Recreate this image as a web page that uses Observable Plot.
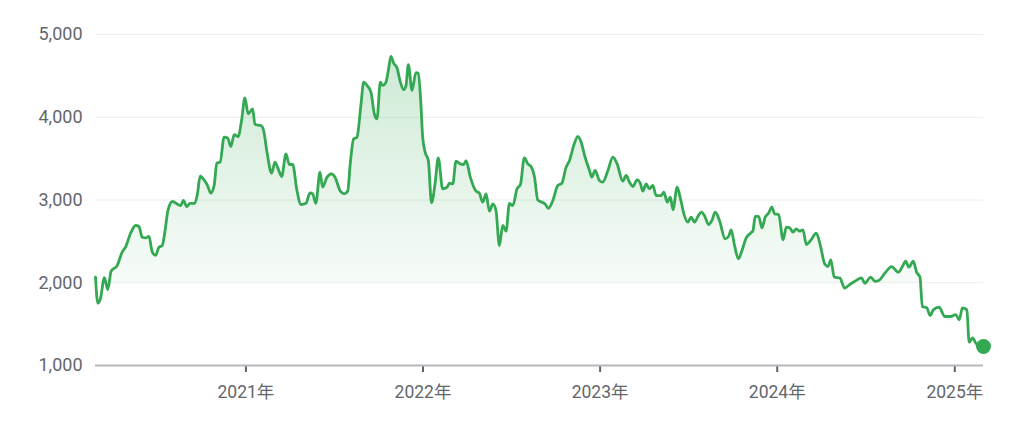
<!DOCTYPE html>
<html>
<head>
<meta charset="utf-8">
<script src="https://cdn.jsdelivr.net/npm/d3@7"></script>
<script src="https://cdn.jsdelivr.net/npm/@observablehq/plot@0.6"></script>
<style>
  html, body { margin: 0; padding: 0; background: #ffffff; }
  #chart { width: 1024px; height: 424px; }
  svg { font-family: Roboto, "Noto Sans CJK JP", sans-serif; }
</style>
</head>
<body>
<div id="chart"></div>
<script>
// Time as decimal years
const years = [
  2020.153, 2020.166, 2020.181, 2020.203, 2020.222, 2020.241, 2020.275, 2020.303, 2020.322, 2020.350,
  2020.379, 2020.397, 2020.416, 2020.435, 2020.454, 2020.473, 2020.492, 2020.510, 2020.529, 2020.542,
  2020.561, 2020.586, 2020.618, 2020.633, 2020.648, 2020.667, 2020.685, 2020.712, 2020.727, 2020.742,
  2020.764, 2020.784, 2020.802, 2020.821, 2020.836, 2020.855, 2020.877, 2020.897, 2020.915, 2020.934,
  2020.956, 2020.976, 2020.994, 2021.013, 2021.038, 2021.051, 2021.085, 2021.100, 2021.119, 2021.145,
  2021.164, 2021.182, 2021.202, 2021.226, 2021.245, 2021.264, 2021.288, 2021.311, 2021.339, 2021.362,
  2021.377, 2021.395, 2021.418, 2021.433, 2021.458, 2021.484, 2021.503, 2021.533, 2021.555, 2021.575,
  2021.589, 2021.608, 2021.627, 2021.650, 2021.665, 2021.684, 2021.706, 2021.725, 2021.740, 2021.759,
  2021.772, 2021.791, 2021.804, 2021.819, 2021.834, 2021.853, 2021.872, 2021.891, 2021.904, 2021.917,
  2021.938, 2021.960, 2021.973, 2021.987, 2021.998, 2022.013, 2022.030, 2022.048, 2022.068, 2022.086,
  2022.111, 2022.136, 2022.149, 2022.168, 2022.186, 2022.211, 2022.230, 2022.243, 2022.267, 2022.299,
  2022.318, 2022.337, 2022.356, 2022.375, 2022.394, 2022.412, 2022.431, 2022.450, 2022.469, 2022.488,
  2022.507, 2022.531, 2022.550, 2022.572, 2022.592, 2022.610, 2022.629, 2022.648, 2022.671, 2022.689,
  2022.708, 2022.733, 2022.761, 2022.784, 2022.808, 2022.827, 2022.851, 2022.874, 2022.893, 2022.915,
  2022.940, 2022.953, 2022.972, 2022.996, 2023.015, 2023.044, 2023.072, 2023.096, 2023.128, 2023.147,
  2023.166, 2023.185, 2023.209, 2023.228, 2023.241, 2023.260, 2023.278, 2023.298, 2023.316, 2023.345,
  2023.360, 2023.379, 2023.397, 2023.411, 2023.435, 2023.454, 2023.473, 2023.495, 2023.514, 2023.533,
  2023.552, 2023.571, 2023.589, 2023.612, 2023.631, 2023.650, 2023.674, 2023.706, 2023.725, 2023.740,
  2023.759, 2023.781, 2023.801, 2023.825, 2023.849, 2023.863, 2023.876, 2023.895, 2023.914, 2023.932,
  2023.951, 2023.970, 2023.985, 2024.008, 2024.033, 2024.051, 2024.070, 2024.089, 2024.107, 2024.126,
  2024.145, 2024.164, 2024.188, 2024.220, 2024.245, 2024.267, 2024.286, 2024.302, 2024.321, 2024.352,
  2024.380, 2024.408, 2024.437, 2024.475, 2024.493, 2024.527, 2024.550, 2024.572, 2024.606, 2024.644,
  2024.682, 2024.705, 2024.723, 2024.742, 2024.766, 2024.785, 2024.804, 2024.817, 2024.842, 2024.861,
  2024.879, 2024.911, 2024.944, 2024.977, 2025.006, 2025.025, 2025.043, 2025.068, 2025.081, 2025.100,
  2025.119, 2025.138, 2025.162
];
const prices = [
  2067, 1753, 1810, 2063, 1918, 2140, 2208, 2370, 2430, 2595,
  2692, 2683, 2550, 2542, 2560, 2370, 2330, 2430, 2450, 2590,
  2873, 2982, 2945, 2933, 2994, 2921, 2960, 2960, 3073, 3287,
  3243, 3175, 3083, 3175, 3444, 3457, 3759, 3750, 3646, 3791,
  3767, 3968, 4233, 4040, 4101, 3912, 3900, 3840, 3578, 3324,
  3457, 3377, 3284, 3557, 3429, 3429, 3115, 2945, 2960, 3085,
  3073, 2961, 3336, 3155, 3276, 3316, 3276, 3107, 3075, 3107,
  3436, 3738, 3759, 4162, 4424, 4384, 4303, 4041, 3980, 4424,
  4384, 4424, 4565, 4734, 4653, 4597, 4424, 4332, 4384, 4637,
  4325, 4540, 4533, 4200, 3759, 3570, 3477, 2965, 3195, 3509,
  3135, 3155, 3203, 3195, 3469, 3436, 3429, 3477, 3276, 3107,
  3083, 2974, 3073, 2865, 2952, 2873, 2450, 2692, 2623, 2960,
  2933, 3135, 3187, 3509, 3436, 3404, 3284, 3000, 2974, 2952,
  2900, 2994, 3175, 3203, 3397, 3477, 3658, 3770, 3699, 3517,
  3357, 3276, 3357, 3236, 3215, 3357, 3517, 3436, 3227, 3296,
  3215, 3163, 3243, 3195, 3107, 3195, 3135, 3175, 3054, 3054,
  3095, 2974, 3035, 2882, 3155, 3014, 2833, 2732, 2793, 2732,
  2801, 2853, 2813, 2704, 2752, 2853, 2752, 2531, 2559, 2639,
  2450, 2289, 2390, 2542, 2599, 2631, 2801, 2801, 2664, 2793,
  2841, 2914, 2833, 2825, 2519, 2672, 2664, 2611, 2651, 2623,
  2639, 2462, 2510, 2599, 2430, 2229, 2196, 2277, 2067, 2059,
  1934, 1978, 2018, 2059, 1994, 2067, 2018, 2027, 2115, 2196,
  2127, 2196, 2260, 2188, 2260, 2127, 2067, 1713, 1697, 1604,
  1672, 1704, 1592, 1592, 1616, 1551, 1697, 1672, 1282, 1333,
  1269, 1229, 1229
];
const yTicks = [1000, 2000, 3000, 4000, 5000];
const gridValues = [2000, 3000, 4000, 5000];
const areaBase = 2000;

function fromDecimalYear(t) {
  const y = Math.floor(t);
  const a = Date.UTC(y, 0, 1), b = Date.UTC(y + 1, 0, 1);
  return new Date(a + (t - y) * (b - a));
}
const data = years.map((t, i) => ({date: fromDecimalYear(t), value: prices[i]}));
const last = data[data.length - 1];

const green = "#34a853";
const labelColor = "#63666b";

const chart = Plot.plot({
  width: 1024,
  height: 424,
  marginLeft: 95,
  marginRight: 41,
  marginTop: 34,
  marginBottom: 59,
  style: {fontFamily: "Roboto, 'Noto Sans CJK JP', sans-serif", background: "#ffffff"},
  x: {type: "utc", domain: [data[0].date, last.date]},
  y: {domain: [1000, 5000]},
  marks: [
    Plot.gridY(gridValues, {stroke: "#e9eeeb", strokeOpacity: 1, strokeWidth: 1}),
    Plot.areaY(data, {
      x: "date",
      y1: areaBase,
      y2: d => Math.max(d.value, areaBase),
      fill: "url(#areaGrad)",
      curve: "monotone-x"
    }),
    Plot.axisY({
      ticks: yTicks,
      tickSize: 0,
      tickPadding: 13,
      tickFormat: d3.format(","),
      fontSize: 18,
      fill: labelColor,
      label: null
    }),
    Plot.axisX({
      ticks: d3.utcYear.every(1),
      tickFormat: d => `${d.getUTCFullYear()}年`,
      tickSize: 7,
      tickPadding: 13,
      stroke: "#5f6368",
      strokeWidth: 2,
      fontSize: 17.5,
      fill: labelColor,
      label: null
    }),
    Plot.ruleY([1000], {stroke: "#b4b7bb", strokeWidth: 2}),
    Plot.lineY(data, {x: "date", y: "value", stroke: green, strokeWidth: 2.8, curve: "monotone-x"}),
    Plot.dot([last], {x: "date", y: "value", r: 7.5, fill: green, stroke: "none"})
  ]
});

const defs = d3.select(chart).insert("defs", ":first-child");
const grad = defs.append("linearGradient")
  .attr("id", "areaGrad")
  .attr("x1", 0).attr("y1", 0).attr("x2", 0).attr("y2", 1);
grad.append("stop").attr("offset", "0%").attr("stop-color", green).attr("stop-opacity", 0.24);
grad.append("stop").attr("offset", "100%").attr("stop-color", green).attr("stop-opacity", 0.04);

document.getElementById("chart").appendChild(chart);
</script>
</body>
</html>
